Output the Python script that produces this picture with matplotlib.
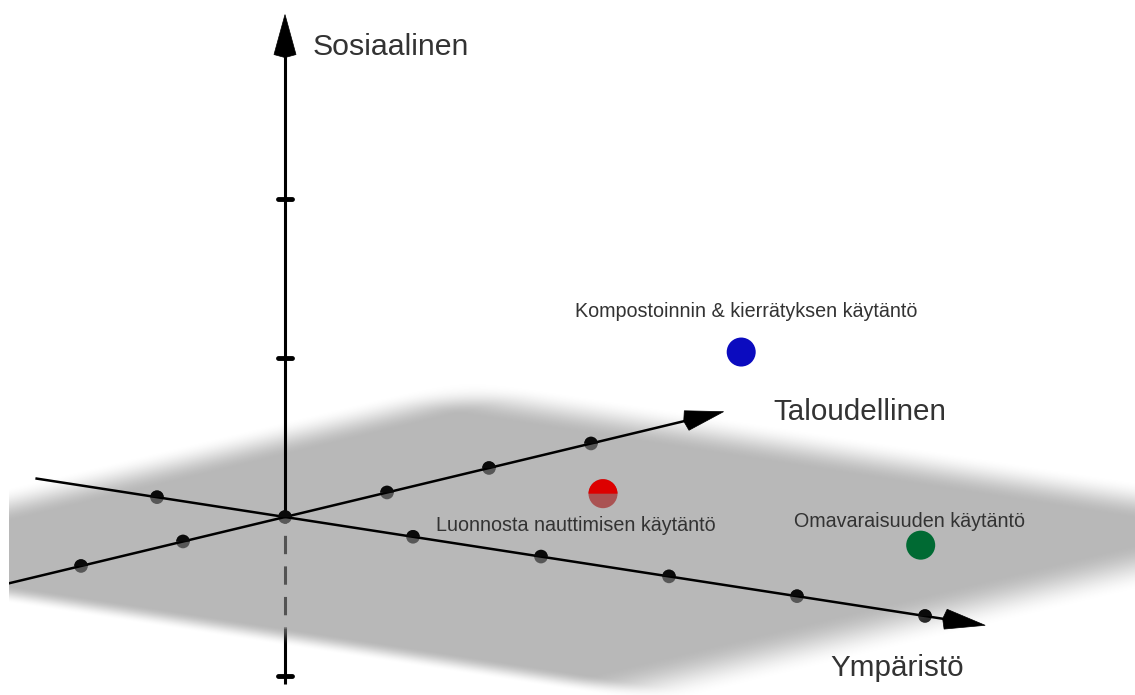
import matplotlib.pyplot as plt
import numpy as np
from matplotlib.patches import Circle, Wedge, Polygon

# axes: Ympäristö (x), Taloudellinen (y), Sosiaalinen (z)
axis_names = ["Ympäristö", "Taloudellinen", "Sosiaalinen"]
x_ticks = [-1, 0, 1, 2, 3, 4, 5]
y_ticks = [-2, -1, 1, 2, 3, 4]
z_ticks = [-1, 1, 2]

practices = ["Kompostoinnin & kierrätyksen käytäntö",
             "Luonnosta nauttimisen käytäntö",
             "Omavaraisuuden käytäntö"]
ymparisto = [2.05, 1.05, 4.05]
taloudellinen = [1.9, 1.8, 1.15]
sosiaalinen = [1.0, 0.0, 0.15]
colors = ["#0b0bbf", "#dd0000", "#006a33"]

# view (orthographic, like the GeoGebra 3D window), in pixels
W, H = 1135, 695
LEFT = 9
origin = np.array([285.0, 517.0])
ex = np.array([128.0, 19.8])
ey = np.array([102.0, -24.5])
ez = np.array([0.0, -159.0])

x_range = (-1.95, 5.47)
y_range = (-3.0, 4.3)
z_range = (-1.05, 3.16)
plane_x = (-1.9, 5.5)
plane_y = (-3.2, 4.15)


def proj(x, y, z=0.0):
    p = origin + x * ex + y * ey + z * ez
    return p[0], p[1]


fig = plt.figure(figsize=(W / 100, H / 100), dpi=100)
ax = fig.add_axes([LEFT / W, 0, 1 - LEFT / W, 1])

# translucent plane z = 0 with faded edges
xs = np.arange(LEFT, W) + 0.5
ys = np.arange(0, H) + 0.5
SX, SY = np.meshgrid(xs, ys)
inv = np.linalg.inv(np.column_stack([ex, ey]))
dx = SX - origin[0]
dy = SY - origin[1]
U = inv[0, 0] * dx + inv[0, 1] * dy
V = inv[1, 0] * dx + inv[1, 1] * dy


def ramp(d, w):
    t = np.clip(d / w, 0, 1)
    return t * t * (3 - 2 * t)


fade = (ramp(U - plane_x[0], 0.7) * ramp(plane_x[1] - U, 0.95)
        * ramp(V - plane_y[0], 0.45) * ramp(plane_y[1] - V, 0.95))
rgba = np.zeros((H, W - LEFT, 4))
rgba[..., :3] = 0.545
rgba[..., 3] = 0.61 * fade
ax.imshow(rgba, extent=(LEFT, W, H, 0), origin="upper",
          interpolation="bilinear", zorder=2)


def arrow_head(x0, y0, x1, y1, length=40, half=10, z=4):
    d = np.array([x1 - x0, y1 - y0])
    d = d / np.hypot(*d)
    n = np.array([-d[1], d[0]])
    tip = np.array([x1, y1])
    base = tip - d * length
    pts = [tip, base + n * half, base - d * 3, base - n * half]
    ax.add_patch(Polygon(pts, closed=True, fc="black", ec="black", lw=0.5, zorder=z))
    return base


# Ympäristö axis
sx0, sy0 = proj(x_range[0], 0)
sx1, sy1 = proj(x_range[1], 0)
b = arrow_head(sx0, sy0, sx1, sy1, length=40, half=10)
ax.plot([sx0, b[0]], [sy0, b[1]], color="black", lw=1.8, zorder=3, solid_capstyle="butt")

# Taloudellinen axis
sx0, sy0 = proj(0, y_range[0])
sx1, sy1 = proj(0, y_range[1])
b = arrow_head(sx0, sy0, sx1, sy1, length=38, half=10)
ax.plot([sx0, b[0]], [sy0, b[1]], color="black", lw=1.8, zorder=3, solid_capstyle="butt")

# Sosiaalinen axis
sx0, sy0 = proj(0, 0, 0)
sx1, sy1 = proj(0, 0, z_range[1])
b = arrow_head(sx0, sy0, sx1, sy1, length=40, half=11)
ax.plot([sx0, b[0]], [sy0, b[1]], color="black", lw=2.2, zorder=3, solid_capstyle="butt")
# hidden part under the plane
zh = -0.7
sxa, sya = proj(0, 0, zh)
ax.plot([sx0, sxa], [sy0, sya], color="black", lw=2.2, zorder=1,
        linestyle=(4, (6.0, 4.0)))
sxb, syb = proj(0, 0, z_range[0])
ax.plot([sxa, sxb], [sya, syb], color="black", lw=2.2, zorder=1, solid_capstyle="butt")
for t in z_ticks:
    tx, ty = proj(0, 0, t)
    ax.plot([tx - 7, tx + 7], [ty, ty], color="black", lw=3.5,
            solid_capstyle="round", zorder=3 if t > 0 else 1.5)


def half_sphere(cx, cy, r, color):
    # full ball sits under the plane, upper half drawn above it
    ax.add_patch(Circle((cx, cy), r, fc=color, ec="none", zorder=1.5))
    ax.add_patch(Wedge((cx, cy), r, 180, 360, fc=color, ec="none", zorder=3.5))


for t in x_ticks:
    half_sphere(*proj(t, 0), 6.8, "#0a0a0a")
for t in y_ticks:
    half_sphere(*proj(0, t), 6.8, "#0a0a0a")

# practices
for name, xv, yv, zv, c in zip(practices, ymparisto, taloudellinen, sosiaalinen, colors):
    cx, cy = proj(xv, yv, zv)
    if zv <= 0:
        half_sphere(cx, cy, 14.5, c)
    else:
        ax.add_patch(Circle((cx, cy), 14.5, fc=c, ec="none", zorder=4))

offsets = [(-166, 35), (-167, -37), (-127, 18)]
for name, xv, yv, zv, off in zip(practices, ymparisto, taloudellinen, sosiaalinen, offsets):
    ax.annotate(name, xy=proj(xv, yv, zv), xytext=off, textcoords="offset pixels",
                ha="left", va="baseline", fontsize=14.2, color="#333333",
                family="Liberation Sans", zorder=5)

# axis labels
ax.annotate(axis_names[0], xy=proj(x_range[1], 0), xytext=(-155, -51),
            textcoords="offset pixels", ha="left", va="baseline",
            fontsize=21.3, color="#333333", family="Liberation Sans")
ax.annotate(axis_names[1], xy=proj(0, y_range[1]), xytext=(50, -8),
            textcoords="offset pixels", ha="left", va="baseline",
            fontsize=21.3, color="#333333", family="Liberation Sans")
ax.annotate(axis_names[2], xy=proj(0, 0, z_range[1]), xytext=(28, -40),
            textcoords="offset pixels", ha="left", va="baseline",
            fontsize=21.8, color="#333333", family="Liberation Sans")

ax.set_aspect("auto")
ax.set_xlim(LEFT, W)
ax.set_ylim(H, 0)
ax.axis("off")
fig.savefig("out.png", dpi=100, facecolor="white")
